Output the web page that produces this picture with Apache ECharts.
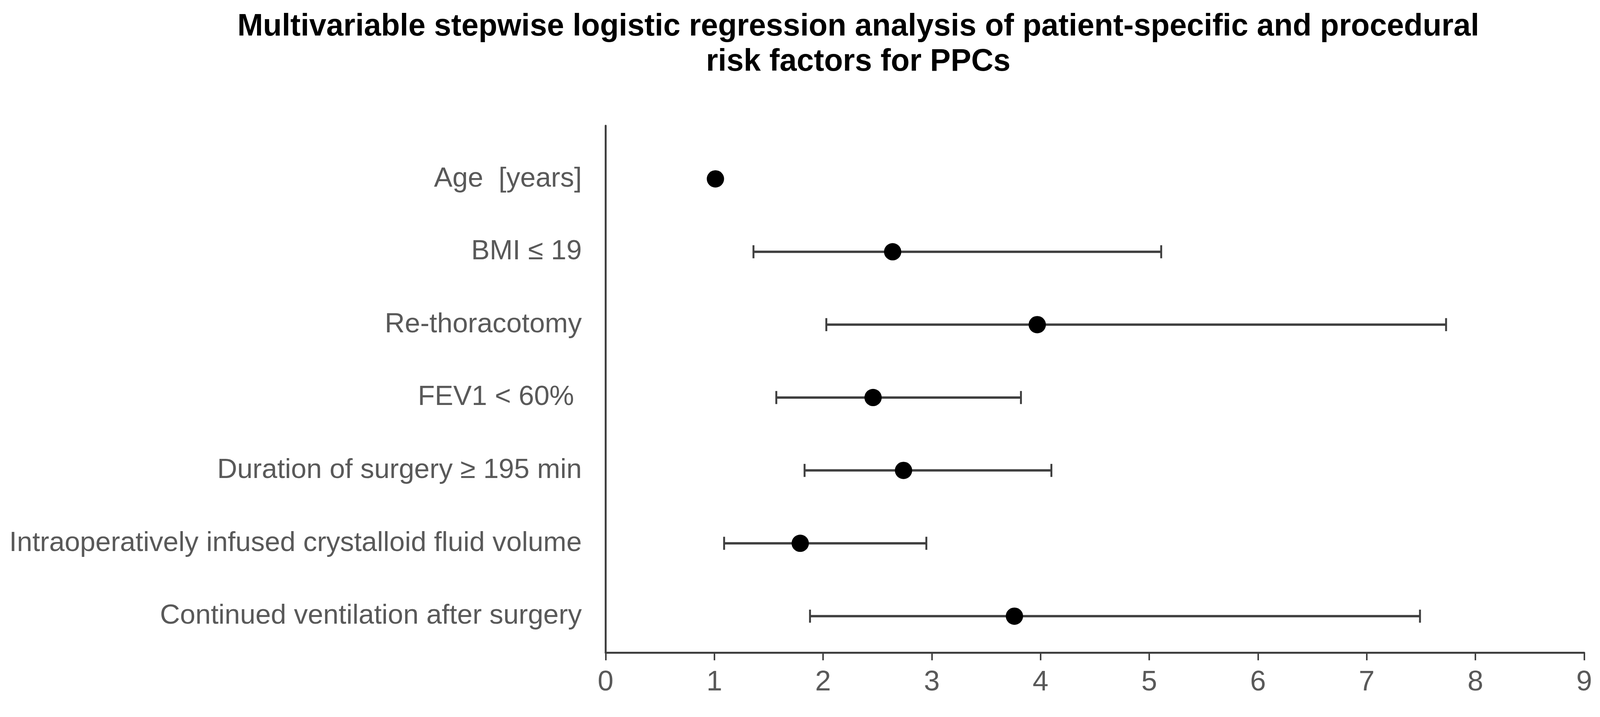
<!DOCTYPE html>
<html>
<head>
<meta charset="utf-8">
<script src="https://cdn.jsdelivr.net/npm/echarts@6/dist/echarts.min.js"></script>
<style>
html,body{margin:0;padding:0;background:#fff;width:100%;height:100%;overflow:hidden;}
#chart{width:100vw;height:calc(100vw * 1836 / 4161);}
</style>
</head>
<body>
<div id="chart"></div>
<script>
const categories = [
  "Age  [years]",
  "BMI \u2264 19",
  "Re-thoracotomy",
  "FEV1 < 60% ",
  "Duration of surgery \u2265 195 min",
  "Intraoperatively infused crystalloid fluid volume",
  "Continued ventilation after surgery"
];
const oddsRatio = [1.01, 2.64, 3.97, 2.46, 2.74, 1.79, 3.76];
const ciLow     = [0.99, 1.36, 2.03, 1.57, 1.83, 1.09, 1.88];
const ciHigh    = [1.03, 5.11, 7.73, 3.82, 4.10, 2.95, 7.49];
const xTicks = [0, 1, 2, 3, 4, 5, 6, 7, 8, 9];

const el = document.getElementById('chart');
const chart = echarts.init(el);
const font = 'Liberation Sans, Arial, sans-serif';
// sizes were measured on a 4161 px wide canvas; scale them to the real viewport width
const k = (el.clientWidth || 4161) / 4161;
const s = v => Math.round(v * k * 10) / 10;

const pointData = oddsRatio.map((v, i) => [v, i]);
const ciData = ciLow.map((lo, i) => [lo, ciHigh[i], i]);

chart.setOption({
  animation: false,
  backgroundColor: '#ffffff',
  title: {
    text: 'Multivariable stepwise logistic regression analysis of patient-specific and procedural\nrisk factors for PPCs',
    left: '53.52%',
    top: s(19),
    textAlign: 'center',
    textStyle: {
      fontFamily: font,
      fontWeight: 'bold',
      fontSize: s(80),
      lineHeight: s(92),
      color: '#000000'
    }
  },
  grid: {
    left: '37.85%',
    right: '0.99%',
    top: '17.81%',
    bottom: '7.52%',
    containLabel: false
  },
  xAxis: {
    type: 'value',
    min: xTicks[0],
    max: xTicks[xTicks.length - 1],
    interval: 1,
    splitLine: { show: false },
    axisLine: { show: true, onZero: false, lineStyle: { color: '#3f3f3f', width: s(5) } },
    axisTick: { show: true, inside: false, length: s(20), lineStyle: { color: '#3f3f3f', width: s(4) } },
    axisLabel: {
      margin: s(41),
      fontFamily: font,
      fontSize: s(74),
      color: '#595959'
    }
  },
  yAxis: {
    type: 'value',
    inverse: true,
    min: -0.73,
    max: 6.5,
    splitLine: { show: false },
    axisLine: { show: true, onZero: false, lineStyle: { color: '#3f3f3f', width: s(5) } },
    axisTick: { show: false },
    axisLabel: {
      customValues: categories.map((c, i) => i),
      formatter: function (v) { return categories[Math.round(v)] || ''; },
      margin: s(62),
      fontFamily: font,
      fontSize: s(72),
      color: '#595959'
    }
  },
  series: [
    {
      type: 'custom',
      name: 'CI',
      data: ciData,
      encode: { x: [0, 1], y: 2 },
      renderItem: function (params, api) {
        const y = api.value(2);
        const p1 = api.coord([api.value(0), y]);
        const p2 = api.coord([api.value(1), y]);
        const cap = s(17);
        const style = { stroke: '#3f3f3f', lineWidth: s(6) };
        const capStyle = { stroke: '#3f3f3f', lineWidth: s(5) };
        return {
          type: 'group',
          children: [
            { type: 'line', shape: { x1: p1[0], y1: p1[1], x2: p2[0], y2: p2[1] }, style: style },
            { type: 'line', shape: { x1: p1[0], y1: p1[1] - cap, x2: p1[0], y2: p1[1] + cap }, style: capStyle },
            { type: 'line', shape: { x1: p2[0], y1: p2[1] - cap, x2: p2[0], y2: p2[1] + cap }, style: capStyle }
          ]
        };
      },
      z: 2
    },
    {
      type: 'scatter',
      name: 'OR',
      data: pointData,
      symbol: 'circle',
      symbolSize: s(45),
      itemStyle: { color: '#000000', opacity: 1 },
      z: 3
    }
  ]
});
window.addEventListener('resize', function () { chart.resize(); });
</script>
</body>
</html>
